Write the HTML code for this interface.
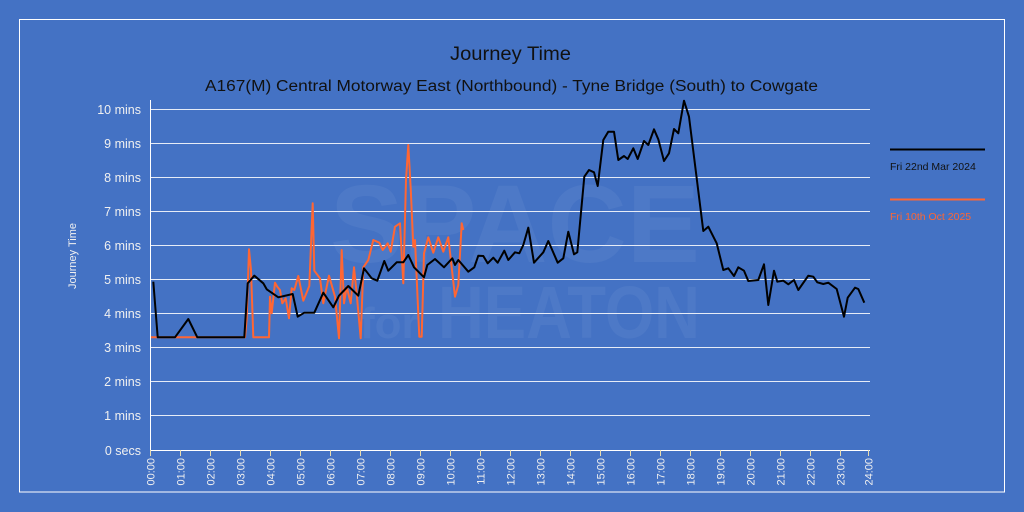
<!DOCTYPE html>
<html><head><meta charset="utf-8"><style>
html,body{margin:0;padding:0;background:#4472C4;}
svg{display:block;font-family:"Liberation Sans","DejaVu Sans",sans-serif;}
</style></head><body>
<svg width="1024" height="512" viewBox="0 0 1024 512" xmlns="http://www.w3.org/2000/svg">
<rect x="0" y="0" width="1024" height="512" fill="#4472C4"/>
<rect x="19.5" y="19.5" width="985" height="472.5" fill="none" stroke="#fff" stroke-width="1"/>
<g fill="#ffffff" fill-opacity="0.05" font-weight="bold">
<text x="330" y="262" font-size="110" textLength="370" lengthAdjust="spacingAndGlyphs">SPACE</text>
<text x="360" y="338" font-size="44">for</text>
<text x="438" y="338" font-size="74" textLength="262" lengthAdjust="spacingAndGlyphs">HEATON</text>
</g>
<text x="450" y="60" font-size="19" fill="#111" textLength="121" lengthAdjust="spacingAndGlyphs">Journey Time</text>
<text x="205" y="91" font-size="15.5" fill="#111" textLength="613" lengthAdjust="spacingAndGlyphs">A167(M) Central Motorway East (Northbound) - Tyne Bridge (South) to Cowgate</text>
<g stroke="#e6ecf7" stroke-width="1">
<line x1="151" y1="109.5" x2="870" y2="109.5"/>
<line x1="151" y1="143.5" x2="870" y2="143.5"/>
<line x1="151" y1="177.5" x2="870" y2="177.5"/>
<line x1="151" y1="211.5" x2="870" y2="211.5"/>
<line x1="151" y1="245.5" x2="870" y2="245.5"/>
<line x1="151" y1="279.5" x2="870" y2="279.5"/>
<line x1="151" y1="313.5" x2="870" y2="313.5"/>
<line x1="151" y1="347.5" x2="870" y2="347.5"/>
<line x1="151" y1="381.5" x2="870" y2="381.5"/>
<line x1="151" y1="415.5" x2="870" y2="415.5"/>
</g>
<line x1="150.5" y1="100" x2="150.5" y2="450" stroke="#fff"/>
<line x1="150.5" y1="450.5" x2="870" y2="450.5" stroke="#fff"/>
<g stroke="#e8dcb0" stroke-width="1">
<path d="M150.5 450v6M180.5 450v6M210.5 450v6M240.5 450v6M270.5 450v6M300.5 450v6M330.5 450v6M360.5 450v6M390.5 450v6M420.5 450v6M450.5 450v6M480.5 450v6M510.5 450v6M540.5 450v6M570.5 450v6M600.5 450v6M630.5 450v6M660.5 450v6M690.5 450v6M720.5 450v6M750.5 450v6M780.5 450v6M810.5 450v6M840.5 450v6M868.5 450v6"/>
</g>
<g font-size="12.5" fill="#f0f0f0" text-anchor="end">
<text x="141" y="114">10 mins</text>
<text x="141" y="148">9 mins</text>
<text x="141" y="182">8 mins</text>
<text x="141" y="216">7 mins</text>
<text x="141" y="250">6 mins</text>
<text x="141" y="284">5 mins</text>
<text x="141" y="318">4 mins</text>
<text x="141" y="352">3 mins</text>
<text x="141" y="386">2 mins</text>
<text x="141" y="420">1 mins</text>
<text x="141" y="455">0 secs</text>
</g>
<text transform="translate(76,256) rotate(-90)" font-size="11" fill="#f0f0f0" text-anchor="middle">Journey Time</text>
<g font-size="11" fill="#f0f0f0" text-anchor="end">
<text transform="translate(154.5,458) rotate(-90)">00:00</text>
<text transform="translate(184.5,458) rotate(-90)">01:00</text>
<text transform="translate(214.5,458) rotate(-90)">02:00</text>
<text transform="translate(244.5,458) rotate(-90)">03:00</text>
<text transform="translate(274.5,458) rotate(-90)">04:00</text>
<text transform="translate(304.5,458) rotate(-90)">05:00</text>
<text transform="translate(334.5,458) rotate(-90)">06:00</text>
<text transform="translate(364.5,458) rotate(-90)">07:00</text>
<text transform="translate(394.5,458) rotate(-90)">08:00</text>
<text transform="translate(424.5,458) rotate(-90)">09:00</text>
<text transform="translate(454.5,458) rotate(-90)">10:00</text>
<text transform="translate(484.5,458) rotate(-90)">11:00</text>
<text transform="translate(514.5,458) rotate(-90)">12:00</text>
<text transform="translate(544.5,458) rotate(-90)">13:00</text>
<text transform="translate(574.5,458) rotate(-90)">14:00</text>
<text transform="translate(604.5,458) rotate(-90)">15:00</text>
<text transform="translate(634.5,458) rotate(-90)">16:00</text>
<text transform="translate(664.5,458) rotate(-90)">17:00</text>
<text transform="translate(694.5,458) rotate(-90)">18:00</text>
<text transform="translate(724.5,458) rotate(-90)">19:00</text>
<text transform="translate(754.5,458) rotate(-90)">20:00</text>
<text transform="translate(784.5,458) rotate(-90)">21:00</text>
<text transform="translate(814.5,458) rotate(-90)">22:00</text>
<text transform="translate(844.5,458) rotate(-90)">23:00</text>
<text transform="translate(872.5,458) rotate(-90)">24:00</text>
</g>
<polyline fill="none" stroke="#FF6633" stroke-width="2" stroke-linejoin="round" points="151,337.3 245,337.3 246.7,318.3 249,249.3 251,270 253.3,337.3 269,337.3 270,296.7 271.7,313.3 275,282.7 277.3,286.7 280,290 282.3,303.3 285.7,298.3 289,318.3 291.7,288.3 294.3,290 298.3,276 303.3,300.7 309.3,286 312.7,203.3 314.3,270.7 320,278.3 323.3,303.3 329,275.7 335,296.7 339,338.3 341.7,250 344,303.3 346.7,286.7 350.7,303.3 354,267.3 356.7,294 360.7,338.3 363.3,267.3 368.3,260 373.3,240 379.3,242.7 382.7,250 387.7,243.3 390.7,251.7 395,226.7 400,223.3 403.3,283.3 406,180 408.3,145 410.7,188.3 413.3,246.7 415,240 419.3,336.7 421.7,336.7 424,253.3 428.3,237.3 433.3,252.7 438.3,237.3 443.3,251.7 448.3,237.3 455,296.7 458.3,285 461.7,223.3 463.3,230"/>
<polyline fill="none" stroke="#000" stroke-width="2" stroke-linejoin="round" points="153.3,281.7 157.7,337.3 175,337.3 188.3,319 197.3,337.3 244.3,337.3 247.7,283.3 254.3,275.7 263.3,283.3 266.7,289.3 278.3,297.3 292.7,294 297.7,316.7 304.3,312.7 314.3,312.7 323.3,292.7 333.3,307.3 339,295.7 348.3,286 358.3,295.7 364,268.3 371.7,278.3 377.3,280.7 384.3,261 388.3,270.7 396.7,262.3 403.3,262.3 408.3,255 414,267.3 424,277.3 427.3,265 435,259 444,267.3 452.3,258.3 455,265 458.3,260 468.3,271.7 474.3,267.3 478.3,255.7 483.3,256 487.7,263.3 493.3,257.7 497.7,262.7 504.3,250.7 508.3,260 515,252.3 519.3,253.3 523.3,245 528.3,227.7 534,262.7 543.3,252.3 548.3,241 557.7,262.7 563.3,258.3 568.3,231.7 574,254.3 577.3,252.3 584.3,176.7 589,170 594,172.3 597.7,186 603.3,140 608.3,131.7 614,131.7 618.3,160 624,156 627.7,159 633.3,148.3 637.7,159 644,141 648.3,145 654,129.3 658.3,139.3 664,161 669,153.3 674,129 678.3,133.3 684,100.7 689,116.7 703.3,231 708.3,226.7 716.7,243.3 723.3,270 728.3,268.3 734,276 738.3,267.3 744,270.7 748.3,281 758.3,280 764,264.3 768.3,305 774,270.7 777.3,281.7 783.3,280.7 788.3,284.3 794,280 798.3,290 808.3,275.7 813.3,276.7 817.3,282.3 823.3,284 828.3,282.7 836.7,289 844,316.7 847.7,297.7 855,287.7 858.3,289 864.3,302.7"/>
<line x1="890" y1="149.5" x2="985" y2="149.5" stroke="#000" stroke-width="2"/>
<text x="890" y="170" font-size="10.5" fill="#111">Fri 22nd Mar 2024</text>
<line x1="890" y1="199.5" x2="985" y2="199.5" stroke="#FF6633" stroke-width="2"/>
<text x="890" y="220" font-size="10.5" fill="#FF6633">Fri 10th Oct 2025</text>
</svg>
</body></html>
